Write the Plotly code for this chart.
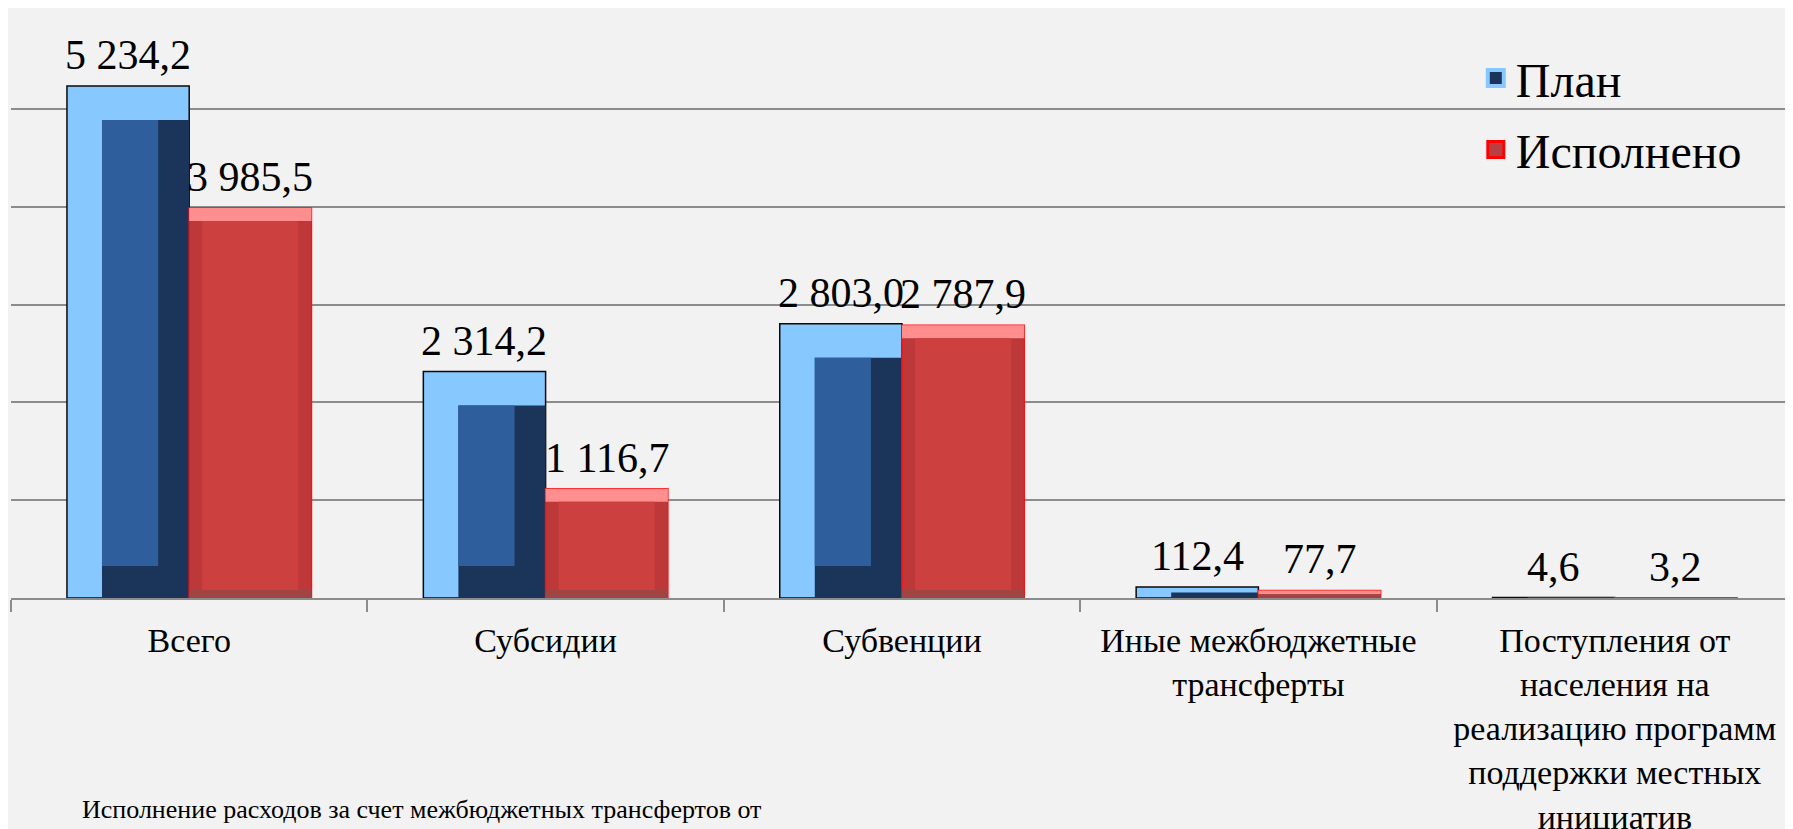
import plotly.graph_objects as go

# данные
categories = [
    "Всего",
    "Субсидии",
    "Субвенции",
    "Иные межбюджетные<br>трансферты",
    "Поступления от<br>населения на<br>реализацию программ<br>поддержки местных<br>инициатив",
]
plan = [5234.2, 2314.2, 2803.0, 112.4, 4.6]
fact = [3985.5, 1116.7, 2787.9, 77.7, 3.2]
plan_labels = ["5 234,2", "2 314,2", "2 803,0", "112,4", "4,6"]
fact_labels = ["3 985,5", "1 116,7", "2 787,9", "77,7", "3,2"]
title_text = "Исполнение расходов за счет межбюджетных трансфертов от"

FONT = "Liberation Serif"
W = 0.343            # ширина столбца в единицах оси x
PX_X = 1 / 356.0     # единиц x на пиксель
PX_Y = 1000 / 97.8   # единиц y на пиксель

xs = list(range(len(categories)))


def clamp(b, v):
    return min(b, v / 2.0)


fig = go.Figure()

# --- План (скошенная рамка) ---
bl, br = 35 * PX_X, 31 * PX_X
bt_p = [clamp(34 * PX_Y, v) for v in plan]
bb_p = [clamp(32 * PX_Y, v) for v in plan]

fig.add_trace(go.Bar(
    x=xs, y=plan, offset=-W, width=W,
    marker=dict(color="#86C8FF", line=dict(color="#0A0A0A", width=1.5)),
    showlegend=False, hoverinfo="skip",
))
fig.add_trace(go.Bar(
    x=xs, y=[v - t for v, t in zip(plan, bt_p)], offset=-W + bl, width=W - bl,
    marker=dict(color="#1B355A", line=dict(width=0)),
    showlegend=False,
))
fig.add_trace(go.Bar(
    x=xs, y=[v - t - b for v, t, b in zip(plan, bt_p, bb_p)],
    base=bb_p, offset=-W + bl, width=W - bl - br,
    marker=dict(color="#2E5E9C", line=dict(width=0)),
    showlegend=False, hoverinfo="skip",
))

# --- Исполнено ---
rb = 13 * PX_X
bt_f = [clamp(13 * PX_Y, v) for v in fact]
bb_f = [clamp(8 * PX_Y, v) for v in fact]

fig.add_trace(go.Bar(
    x=xs, y=fact, offset=0, width=W,
    marker=dict(color="#BD3838", line=dict(color="#FF1010", width=1.5)),
    showlegend=False,
))
fig.add_trace(go.Bar(
    x=xs, y=bt_f, base=[v - t for v, t in zip(fact, bt_f)], offset=0, width=W,
    marker=dict(color="#FF8E8E", line=dict(width=0)),
    showlegend=False, hoverinfo="skip",
))
fig.add_trace(go.Bar(
    x=xs, y=bb_f, offset=0, width=W,
    marker=dict(color="#A04444", line=dict(width=0)),
    showlegend=False, hoverinfo="skip",
))
fig.add_trace(go.Bar(
    x=xs, y=[v - t - b for v, t, b in zip(fact, bt_f, bb_f)],
    base=bb_f, offset=rb, width=W - 2 * rb,
    marker=dict(color="#CC4040", line=dict(width=0)),
    showlegend=False, hoverinfo="skip",
))

# легенда (крупные квадратные значки)
fig.add_trace(go.Scatter(
    x=[None], y=[None], mode="markers", name="План",
    legendgroup="plan",
    marker=dict(symbol="square", size=25, color="#1B355A",
                line=dict(color="#86C8FF", width=4)),
))
fig.add_trace(go.Scatter(
    x=[None], y=[None], mode="markers", name="Исполнено",
    legendgroup="fact",
    marker=dict(symbol="square", size=25, color="#B84040",
                line=dict(color="#FF0000", width=3)),
))

# подписи значений
for x, v, t in zip(xs, plan, plan_labels):
    fig.add_annotation(x=x - W / 2, y=v, text=t, showarrow=False,
                       yanchor="bottom", yshift=6,
                       font=dict(family=FONT, size=42, color="black"))
for x, v, t in zip(xs, fact, fact_labels):
    fig.add_annotation(x=x + W / 2, y=v, text=t, showarrow=False,
                       yanchor="bottom", yshift=6,
                       font=dict(family=FONT, size=42, color="black"))

fig.add_annotation(
    text=title_text, xref="paper", yref="paper",
    x=0.2306, y=-0.36, xanchor="center", yanchor="middle",
    showarrow=False, font=dict(family=FONT, size=26, color="black"),
)

fig.update_xaxes(
    range=[-0.5, len(categories) - 0.5],
    tickvals=xs, ticktext=categories, ticks="",
    tickfont=dict(family=FONT, size=34, color="black"),
    ticklabelstandoff=11, automargin=False,
    showline=True, linecolor="#8C8C8C", linewidth=2,
    showgrid=False, zeroline=False,
    minor=dict(tickvals=[x - 0.5 for x in range(len(categories) + 1)],
               ticks="outside", ticklen=12, tickwidth=2, tickcolor="#8C8C8C"),
)
fig.update_yaxes(
    range=[0, 6000], dtick=1000, showticklabels=False, automargin=False,
    showgrid=True, gridcolor="#8C8C8C", gridwidth=2, zeroline=False,
)

# страница имеет отступ 8px, поэтому фигура чуть меньше окна
fig.update_layout(
    width=1785, height=821,
    barmode="overlay",
    font=dict(family=FONT, color="black"),
    paper_bgcolor="#F2F2F2", plot_bgcolor="#F2F2F2",
    margin=dict(l=3, r=0, t=3, b=231),
    legend=dict(
        x=0.822, y=0.95, xanchor="left", yanchor="top",
        font=dict(family=FONT, size=48, color="black"),
        bgcolor="rgba(0,0,0,0)", traceorder="grouped", tracegroupgap=6,
        itemsizing="trace",
    ),
)

fig.write_html("out.html")
